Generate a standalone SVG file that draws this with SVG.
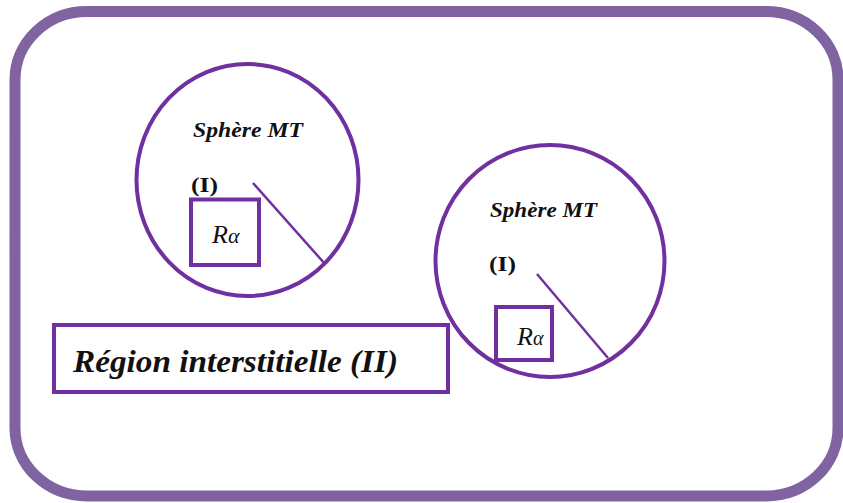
<svg xmlns="http://www.w3.org/2000/svg" width="843" height="503" viewBox="0 0 843 503">
<style>
.outer{fill:none;stroke:#8064A2;stroke-width:11}
.sph{fill:none;stroke:#7030A0;stroke-width:4}
.box{fill:#fff;stroke:#7030A0;stroke-width:4}
.rad{stroke:#7030A0;stroke-width:2.5}
text{font-family:'Liberation Serif','Times New Roman','DejaVu Serif',serif;fill:#111}
.sm{font-size:20px;font-style:italic;font-weight:bold}
.one{font-size:21px;font-weight:bold}
.ra{font-size:26px;font-style:italic}
.reg{font-size:31px;font-style:italic;font-weight:bold}
</style>
<rect width="843" height="503" fill="#fff"/>
<g id="frame"><rect class="outer" x="15" y="11.5" width="823" height="484.5" rx="72" ry="68"/></g>
<g id="sphere1">
<ellipse class="sph" cx="247.5" cy="180" rx="111" ry="116"/>
<text class="sm" x="193" y="137" textLength="110" lengthAdjust="spacingAndGlyphs">Sphère MT</text>
<text class="one" x="191" y="192" textLength="27" lengthAdjust="spacingAndGlyphs">(I)</text>
<rect class="box" x="191" y="199.5" width="68" height="65.5"/>
<text class="ra" x="212" y="243">R<tspan font-size="22">α</tspan></text>
</g>
<g id="sphere2">
<ellipse class="sph" cx="550" cy="261" rx="114.5" ry="116"/>
<text class="sm" x="490" y="217" textLength="107" lengthAdjust="spacingAndGlyphs">Sphère MT</text>
<text class="one" x="489" y="271" textLength="27" lengthAdjust="spacingAndGlyphs">(I)</text>
<rect class="box" x="496" y="307" width="56" height="53"/>
<text class="ra" x="517" y="345" font-size="24">R<tspan font-size="20">α</tspan></text>
</g>
<g id="connectors">
<line class="rad" x1="253" y1="183" x2="325" y2="264"/>
<line class="rad" x1="537" y1="274" x2="608" y2="358"/>
</g>
<g id="region">
<rect class="box" x="54" y="325" width="394" height="67"/>
<text class="reg" x="73" y="372" textLength="325" lengthAdjust="spacingAndGlyphs">Région interstitielle (II)</text>
</g>
</svg>
